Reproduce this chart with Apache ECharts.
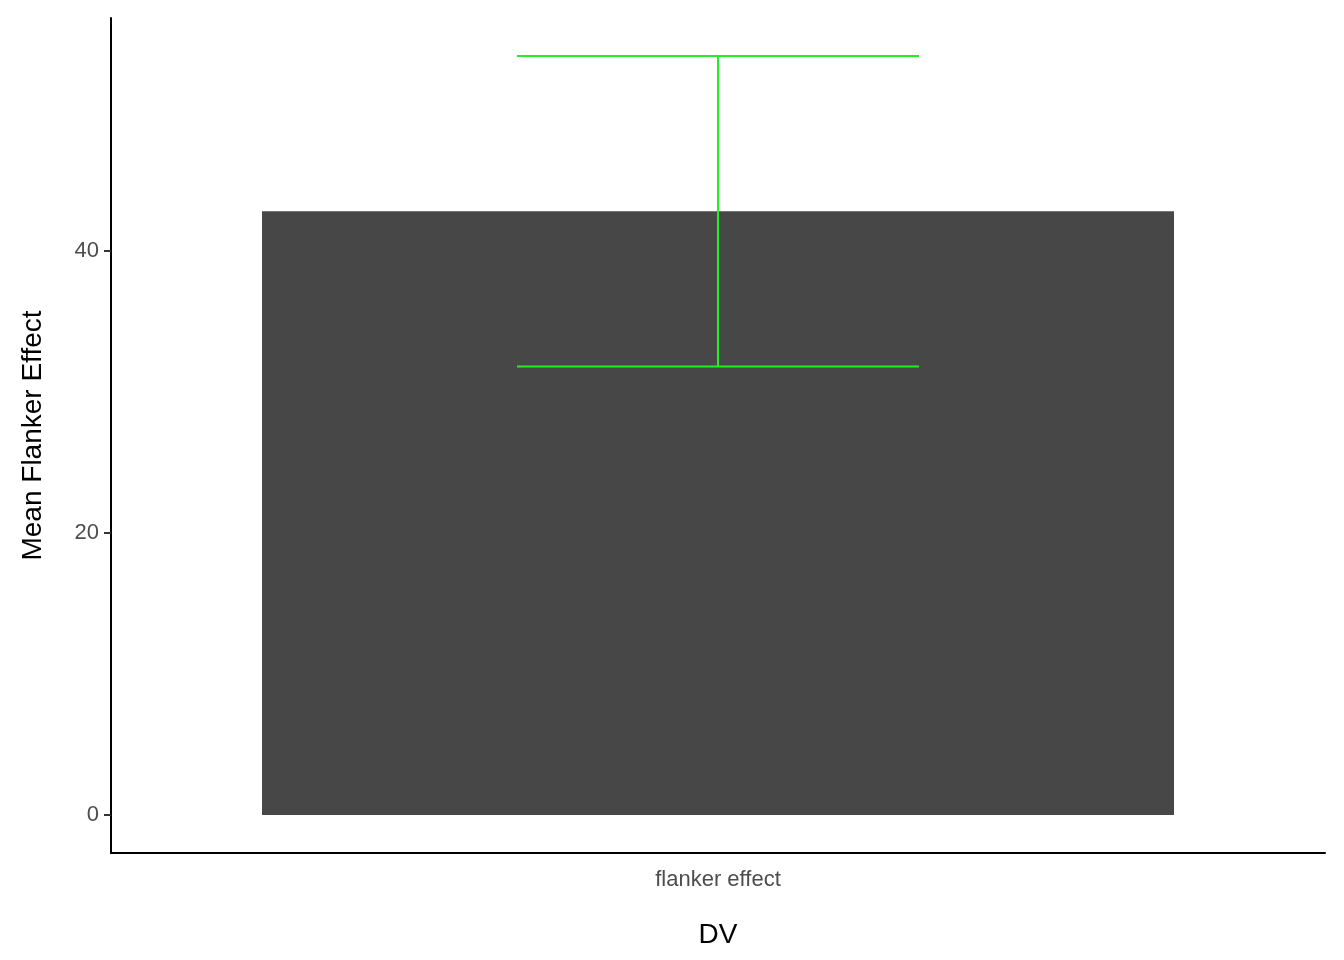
<!DOCTYPE html>
<html><head><meta charset="utf-8">
<script src="https://cdn.jsdelivr.net/npm/echarts@6/dist/echarts.min.js"></script>
<style>html,body{margin:0;background:#fff}#c{width:1344px;height:960px}</style>
</head><body><div id="c"></div>
<script>
const categories = ['flanker effect'];
const meanValues = [42.8];
const errLow = [31.8];
const errHigh = [53.8];
const yTicks = [0, 20, 40];

const chart = echarts.init(document.getElementById('c'));
chart.setOption({
  animation: false,
  grid: { left: 111, right: 19, top: 18, bottom: 107 },
  xAxis: {
    type: 'category', data: categories, name: 'DV', nameLocation: 'middle', nameGap: 68,
    nameTextStyle: { fontSize: 28, color: '#000', fontFamily: 'Liberation Sans' },
    axisLine: { onZero: false, lineStyle: { color: '#000', width: 2 } },
    axisTick: { alignWithLabel: true, length: 7, lineStyle: { color: '#333', width: 2 } },
    axisLabel: { fontSize: 22, color: '#4d4d4d', margin: 16, fontFamily: 'Liberation Sans' }
  },
  yAxis: {
    type: 'value', min: -2.69, max: 56.5, name: 'Mean Flanker Effect', nameLocation: 'middle', nameGap: 64,
    nameTextStyle: { fontSize: 28, color: '#000', fontFamily: 'Liberation Sans' },
    axisLine: { show: true, onZero: false, lineStyle: { color: '#000', width: 2 } },
    axisTick: { show: true, length: 7, customValues: yTicks, lineStyle: { color: '#333', width: 2 } },
    axisLabel: { fontSize: 22, color: '#4d4d4d', margin: 12, customValues: yTicks, fontFamily: 'Liberation Sans' },
    splitLine: { show: false }
  },
  series: [
    { type: 'bar', data: meanValues, barWidth: 912, itemStyle: { color: '#474747' } },
    {
      type: 'custom',
      data: categories.map((c, i) => [i, errLow[i], errHigh[i]]),
      renderItem: function (params, api) {
        const lo = api.coord([api.value(0), api.value(1)]);
        const hi = api.coord([api.value(0), api.value(2)]);
        const hw = 201;
        const style = { stroke: '#22ee22', lineWidth: 2 };
        return { type: 'group', children: [
          { type: 'line', shape: { x1: hi[0], y1: hi[1], x2: lo[0], y2: lo[1] }, style },
          { type: 'line', shape: { x1: hi[0] - hw, y1: hi[1], x2: hi[0] + hw, y2: hi[1] }, style },
          { type: 'line', shape: { x1: lo[0] - hw, y1: lo[1], x2: lo[0] + hw, y2: lo[1] }, style }
        ] };
      },
      z: 10
    }
  ]
});
</script></body></html>
